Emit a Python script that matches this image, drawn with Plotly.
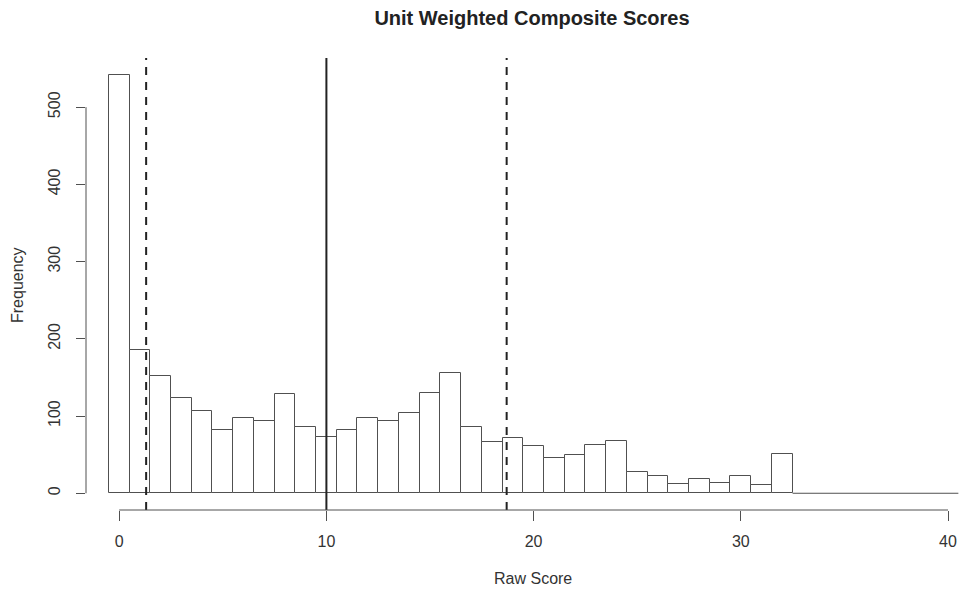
import plotly.graph_objects as go

# Histogram bins (centers, width 1) and counts
bin_centers = list(range(0, 41))
counts = [542, 186, 152, 123, 107, 82, 97, 94, 129, 86, 73,
          82, 98, 94, 104, 130, 156, 86, 67, 72, 61,
          46, 50, 62, 68, 28, 22, 12, 18, 13, 23,
          11, 51, 0, 0, 0, 0, 0, 0, 0, 0]

# Reference lines: mean and +/- bounds
mean_line = [10.0]
bound_lines = [1.3, 18.7]

x_ticks = [0, 10, 20, 30, 40]
y_ticks = [0, 100, 200, 300, 400, 500]

W, H = 960, 593
L, R, T, B = 86, 0, 58, 83
plot_w = W - L - R
plot_h = H - T - B

# pixel scale: 0 at x=119.2, 20.72 px per unit
x0_px, x_scale = 119.2, 20.72
x_range = [(L - x0_px) / x_scale, (W - R - x0_px) / x_scale]
ymax = max(counts)
ext = 0.04 * ymax
y_range = [-ext, ymax + ext]

line_col = "#505050"
text_col = "#333333"
font_fam = "Liberation Sans, Arial, sans-serif"

fig = go.Figure()

nz_x = [c for c, v in zip(bin_centers, counts) if v > 0]
nz_y = [v for v in counts if v > 0]
fig.add_trace(go.Bar(
    x=nz_x, y=nz_y, width=1,
    marker=dict(color="white", line=dict(color=line_col, width=1)),
    showlegend=False, hoverinfo="skip",
))

# zero-height bins drawn as a baseline
zero_bins = [c for c, v in zip(bin_centers, counts) if v == 0]
fig.add_trace(go.Scatter(
    x=[min(zero_bins) - 0.5, max(zero_bins) + 0.5], y=[0, 0],
    mode="lines", line=dict(color=line_col, width=1),
    showlegend=False, hoverinfo="skip",
))

for v in mean_line:
    fig.add_shape(type="line", xref="x", yref="paper", x0=v, x1=v, y0=0, y1=1,
                  line=dict(color="#222222", width=2))
for v in bound_lines:
    fig.add_shape(type="line", xref="x", yref="paper", x0=v, x1=v, y0=0, y1=1,
                  line=dict(color="#222222", width=2, dash="8px,7px"))

# axis lines spanning only the tick range (R style)
fig.add_shape(type="line", xref="x", yref="paper", x0=x_ticks[0], x1=x_ticks[-1],
              y0=0, y1=0, line=dict(color=line_col, width=1))
fig.add_shape(type="line", xref="paper", yref="y", x0=0, x1=0,
              y0=y_ticks[0], y1=y_ticks[-1], line=dict(color=line_col, width=1))

fig.update_layout(
    width=W, height=H,
    margin=dict(l=L, r=R, t=T, b=B, pad=0),
    plot_bgcolor="white", paper_bgcolor="white",
    bargap=0,
    font=dict(family=font_fam, color=text_col, size=16),
    title=dict(text="<b>Unit Weighted Composite Scores</b>", x=532 / W, xref="container",
               xanchor="center", y=1 - 18 / H, yanchor="middle",
               font=dict(size=20, color="#222222", family=font_fam)),
    xaxis=dict(range=x_range, tickvals=x_ticks, ticktext=[str(t) for t in x_ticks],
               showgrid=False, zeroline=False, showline=False,
               ticks="outside", ticklen=10, tickcolor=line_col, tickwidth=1,
               ticklabelstandoff=7,
               tickfont=dict(size=16, color=text_col)),
    yaxis=dict(range=y_range, tickvals=y_ticks, ticktext=[str(t) for t in y_ticks],
               showgrid=False, zeroline=False, showline=False,
               ticks="outside", ticklen=9, tickcolor=line_col, tickwidth=1,
               tickangle=-90, ticklabelstandoff=10,
               tickfont=dict(size=16, color=text_col)),
    annotations=[
        dict(text="Raw Score", xref="paper", yref="paper",
             x=(533 - L) / plot_w, y=-(578 - (H - B)) / plot_h,
             xanchor="center", yanchor="middle", showarrow=False,
             font=dict(size=16, color=text_col)),
        dict(text="Frequency", xref="paper", yref="paper",
             x=-(L - 17) / plot_w, y=1 - (285 - T) / plot_h,
             xanchor="center", yanchor="middle", showarrow=False, textangle=-90,
             font=dict(size=16, color=text_col)),
    ],
)

fig.write_html(
    "out.html",
    config={"displayModeBar": False},
    post_script="document.body.style.margin='0';document.body.style.overflow='hidden';",
)
